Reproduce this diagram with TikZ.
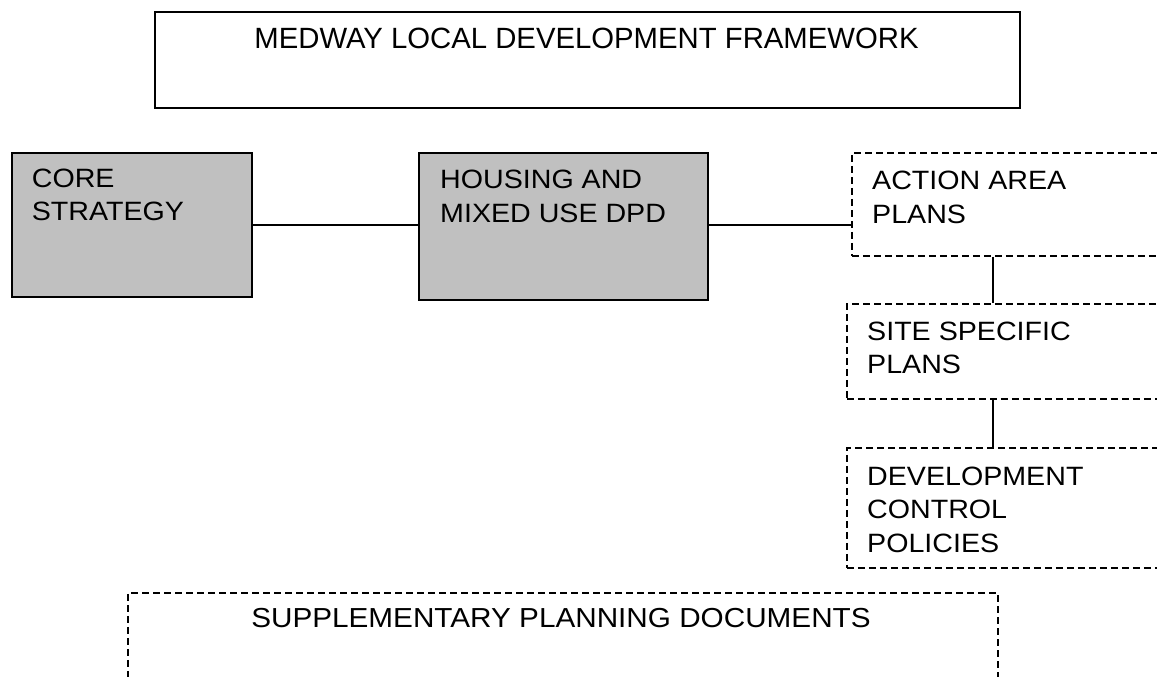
\documentclass[tikz,border=0pt]{standalone}
\usepackage{fontspec}
\setmainfont{Liberation Sans}
\newfontfamily\boxfont{Liberation Sans}[FakeStretch=1.08]
\begin{document}
\begin{tikzpicture}[x=1pt,y=-1pt,
  solidbox/.style={draw=black, line width=1.8pt, rectangle, inner sep=0pt, anchor=north west},
  greybox/.style={solidbox, fill=boxgrey},
  dashbox/.style={draw=black, line width=1.8pt, dash pattern=on 7pt off 4pt, rectangle, inner sep=0pt, anchor=north west},
  link/.style={draw=black, line width=1.8pt},
  titletext/.style={font=\fontsize{29.3}{35}\selectfont, inner sep=0pt, anchor=base},
  boxtext/.style={font=\boxfont\fontsize{26.5}{33}\selectfont, inner sep=0pt, anchor=base west},
  supptext/.style={font=\boxfont\fontsize{27.5}{33}\selectfont, inner sep=0pt, anchor=base}]
\definecolor{boxgrey}{HTML}{C0C0C0}
\useasboundingbox (0,0) rectangle (1157,677);
\clip (0,0) rectangle (1157,677);
% boxes
\node[solidbox, minimum width=865pt, minimum height=96pt] (ldf) at (154,11) {};
\node[greybox, minimum width=240pt, minimum height=144pt] (core) at (11,152) {};
\node[greybox, minimum width=289pt, minimum height=147pt] (housing) at (418,152) {};
\node[dashbox, minimum width=360pt, minimum height=103pt] (action) at (851,152) {};
\node[dashbox, minimum width=360pt, minimum height=95pt] (site) at (846,303) {};
\node[dashbox, minimum width=360pt, minimum height=120pt] (dcp) at (846,447) {};
\node[dashbox, minimum width=870pt, minimum height=140pt] (spd) at (127,592) {};
% texts
\node[titletext] (ldft) at (586.5,48.5) {MEDWAY LOCAL DEVELOPMENT FRAMEWORK};
\node[boxtext] (coret1) at (31.7,187.3) {CORE};
\node[boxtext] (coret2) at (31.7,220.5) {STRATEGY};
\node[boxtext] (houst1) at (440,188) {HOUSING AND};
\node[boxtext] (houst2) at (440,222) {MIXED USE DPD};
\node[boxtext] (actt1) at (872,189.5) {ACTION AREA};
\node[boxtext] (actt2) at (872,223) {PLANS};
\node[boxtext] (sitet1) at (867,340) {SITE SPECIFIC};
\node[boxtext] (sitet2) at (867,373) {PLANS};
\node[boxtext] (dcpt1) at (867,485) {DEVELOPMENT};
\node[boxtext] (dcpt2) at (867,518.5) {CONTROL};
\node[boxtext] (dcpt3) at (867,552) {POLICIES};
\node[supptext] (spdt) at (561,627) {SUPPLEMENTARY PLANNING DOCUMENTS};
% connectors
\coordinate (vx) at (993,0);
\draw[link] (core.east) -- (core.east -| housing.west);
\draw[link] (core.east -| housing.east) -- (core.east -| action.west);
\draw[link] (action.south -| vx) -- (site.north -| vx);
\draw[link] (site.south -| vx) -- (dcp.north -| vx);
\end{tikzpicture}
\end{document}
